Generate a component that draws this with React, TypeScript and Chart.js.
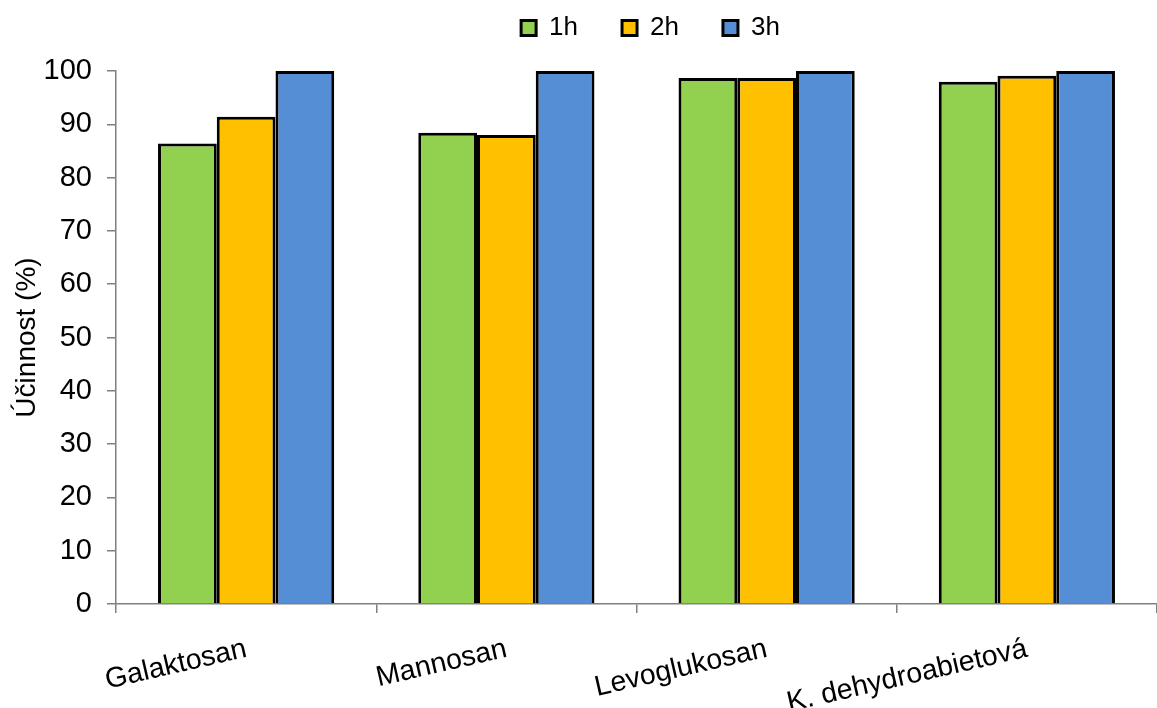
import React, { useEffect, useRef } from "react";
import { Chart, registerables } from "chart.js";

Chart.register(...registerables);

const categories = ["Galaktosan", "Mannosan", "Levoglukosan", "K. dehydroabietová"];
const seriesNames = ["1h", "2h", "3h"];
const values1h = [86.4, 88.4, 98.7, 98.0];
const values2h = [91.4, 88.0, 98.7, 99.1];
const values3h = [100, 100, 100, 100];
const yTicks = [0, 10, 20, 30, 40, 50, 60, 70, 80, 90, 100];
const colors = ["#92D050", "#FFC000", "#558ED5"];
const yTitle = "Účinnost (%)";

const FONT = "'Liberation Sans', Arial, sans-serif";

export default function App() {
  const ref = useRef<HTMLCanvasElement | null>(null);

  useEffect(() => {
    if (!ref.current) return;
    const legendTweak = {
      id: "legendTweak",
      beforeLayout(chart: any) {
        const lg = chart.legend;
        if (lg && !lg.__patched) {
          const origFit = lg.fit.bind(lg);
          lg.fit = function () {
            origFit();
            this.height = 71;
          };
          lg.__patched = true;
        }
      },
      afterLayout(chart: any) {
        const lg = chart.legend;
        if (lg) {
          const ca = chart.chartArea;
          const center = (ca.left + ca.right) / 2;
          const cur = (lg.left + lg.right) / 2;
          const d = center - cur + 14;
          lg.left += d;
          lg.right += d;
          lg.top -= 29;
        }
      },
    };
    const chart = new Chart(ref.current, {
      type: "bar",
      data: {
        labels: categories,
        datasets: [values1h, values2h, values3h].map((vals, i) => ({
          label: seriesNames[i],
          data: vals,
          backgroundColor: colors[i],
          borderColor: "#000000",
          borderWidth: 3,
          categoryPercentage: 0.677,
          barPercentage: 1,
        })),
      },
      options: {
        animation: false,
        responsive: true,
        maintainAspectRatio: false,
        layout: { padding: { top: 0, right: 0, left: 0, bottom: 0 } },
        plugins: {
          legend: {
            position: "top",
            labels: {
              color: "#000",
              font: { family: FONT, size: 26 },
              boxWidth: 15,
              boxHeight: 15,
              padding: 44,
            },
          },
          tooltip: { enabled: false },
        },
        scales: {
          x: {
            grid: {
              drawOnChartArea: false,
              drawTicks: true,
              tickLength: 9,
              color: "#808080",
              lineWidth: 1.5,
            },
            border: { display: true, color: "#808080", width: 1.5 },
            ticks: {
              color: "#000",
              font: { family: FONT, size: 28.5 },
              minRotation: 13,
              maxRotation: 13,
              padding: 19,
            },
            afterFit(scale: any) {
              scale.height = 104;
            },
          },
          y: {
            min: 0,
            max: 100,
            afterBuildTicks(scale: any) {
              scale.ticks = yTicks.map((v) => ({ value: v }));
            },
            grid: {
              drawOnChartArea: false,
              drawTicks: true,
              tickLength: 9,
              color: "#808080",
              lineWidth: 1.5,
            },
            border: { display: true, color: "#808080", width: 1.5 },
            ticks: {
              color: "#000",
              font: { family: FONT, size: 29 },
              padding: 15,
            },
            title: {
              display: true,
              text: yTitle,
              color: "#000",
              font: { family: FONT, size: 28 },
              padding: { top: 10, bottom: 0 },
            },
            afterFit(scale: any) {
              scale.width = 116;
            },
          },
        },
      },
      plugins: [legendTweak],
    });
    return () => chart.destroy();
  }, []);

  return (
    <div style={{ position: "fixed", left: 0, top: 0, width: 1157, height: 708, background: "#fff" }}>
      <canvas ref={ref} />
    </div>
  );
}
